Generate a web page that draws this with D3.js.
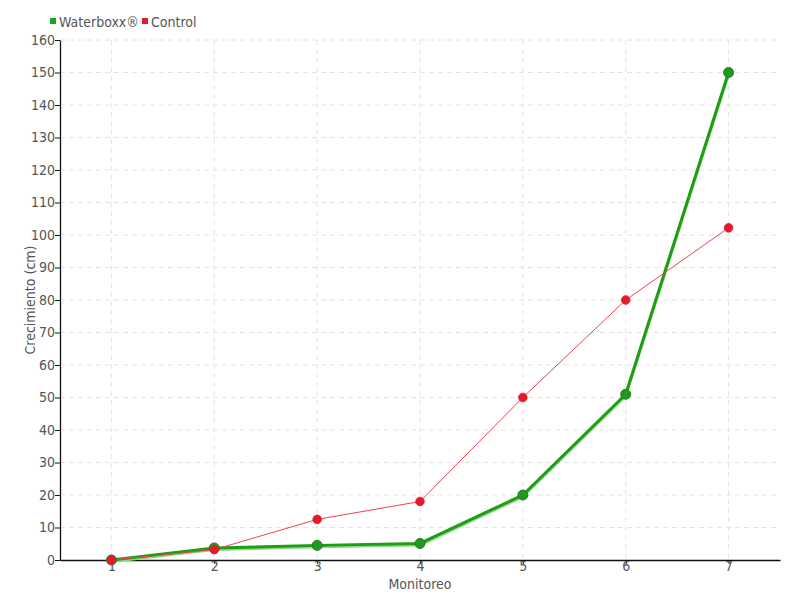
<!DOCTYPE html>
<html><head><meta charset="utf-8">
<script src="https://cdn.jsdelivr.net/npm/d3@7"></script>
<style>
body{margin:0;background:#fff;}
text{font-family:"DejaVu Sans Condensed","DejaVu Sans",sans-serif;font-stretch:condensed;}
</style></head>
<body><svg id="c" width="800" height="600"></svg>
<script>
const categories = [1,2,3,4,5,6,7];
const waterboxx = [0, 3.7, 4.5, 5.1, 20, 51, 150];
const control = [0, 3.2, 12.5, 18, 50, 80, 102.2];
const yTicks = d3.range(0,161,10);
const seriesNames = ["Waterboxx®","Control"];

const FONT = '"DejaVu Sans Condensed","DejaVu Sans",sans-serif';
const svg = d3.select("#c");
const x = d3.scaleLinear().domain([0.5,7.5]).range([60,780]);
const y = d3.scaleLinear().domain([0,160]).range([560,40]);

// grid
const g = svg.append("g");
g.selectAll(".hg").data(yTicks.slice(1)).enter().append("line")
 .attr("x1",60).attr("x2",780).attr("y1",d=>y(d)).attr("y2",d=>y(d))
 .attr("stroke","#e4e4e4").attr("stroke-dasharray","5,4");
g.selectAll(".vg").data(categories).enter().append("line")
 .attr("x1",d=>x(d)).attr("x2",d=>x(d)).attr("y1",40).attr("y2",560)
 .attr("stroke","#e4e4e4").attr("stroke-dasharray","5,4");

// axes
const ya = svg.append("g").attr("transform","translate(60,0)")
 .call(d3.axisLeft(y).tickValues(yTicks).tickFormat(d3.format("d")).tickSize(5).tickSizeOuter(0));
const xa = svg.append("g").attr("transform","translate(0,560)")
 .call(d3.axisBottom(x).tickValues(categories).tickFormat(d3.format("d")).tickSize(4).tickSizeOuter(0));
[ya,xa].forEach(a=>{
  a.select(".domain").attr("stroke","#111").attr("stroke-width",1.3);
  a.selectAll(".tick line").attr("stroke","#111");
  a.selectAll(".tick text").attr("fill","#555").attr("font-size",14).style("font-family",FONT);
});
ya.selectAll(".tick text").attr("x",-5);
xa.selectAll(".tick text").attr("y",1);

// titles
svg.append("text").attr("x",420).attr("y",589).attr("text-anchor","middle")
 .attr("fill","#555").attr("font-size",14).text("Monitoreo");
svg.append("text").attr("transform","translate(35,300) rotate(-90)").attr("text-anchor","middle")
 .attr("fill","#555").attr("font-size",14).text("Crecimiento (cm)");

// lines
const line = d3.line().x((d,i)=>x(categories[i])).y(d=>y(d));
svg.append("path").datum(waterboxx).attr("d",line).attr("fill","none")
 .attr("stroke","#8fd88a").attr("stroke-width",3).attr("transform","translate(0,1.5)");
svg.append("path").datum(waterboxx).attr("d",line).attr("fill","none")
 .attr("stroke","#1e9e14").attr("stroke-width",3);
svg.append("path").datum(control).attr("d",line).attr("fill","none")
 .attr("stroke","#f0404f").attr("stroke-width",1);

svg.selectAll(".wp").data(waterboxx).enter().append("circle")
 .attr("cx",(d,i)=>x(categories[i])).attr("cy",d=>y(d)).attr("r",5)
 .attr("fill","#1e9a1e").attr("stroke","#2a7a22").attr("stroke-width",1);
svg.selectAll(".cp").data(control).enter().append("circle")
 .attr("cx",(d,i)=>x(categories[i])).attr("cy",d=>y(d)).attr("r",4.3)
 .attr("fill","#e8192c").attr("stroke","#d0202c").attr("stroke-width",0.8);

// legend
const colors = ["#1ea51e","#e8192c"];
const lx = [50,142];
seriesNames.forEach((n,i)=>{
  svg.append("rect").attr("x",lx[i]).attr("y",18).attr("width",6).attr("height",6).attr("fill",colors[i]);
  svg.append("text").attr("x",lx[i]+9).attr("y",27).attr("fill","#555").attr("font-size",14).text(n);
});
</script></body></html>
